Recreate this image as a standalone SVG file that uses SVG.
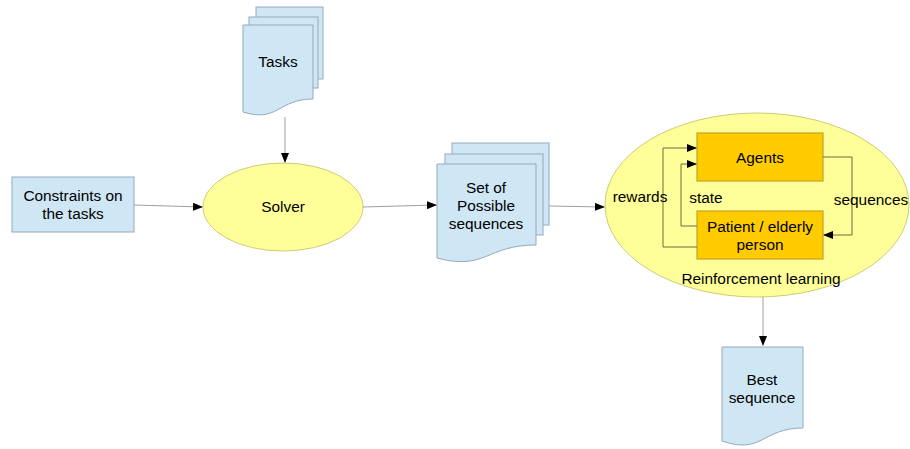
<svg xmlns="http://www.w3.org/2000/svg" width="910" height="449" viewBox="0 0 910 449">
<defs>
<marker id="ah" markerWidth="10" markerHeight="8" refX="9" refY="4" orient="auto" markerUnits="userSpaceOnUse">
<path d="M0,0 L10,4 L0,8 Z" fill="#000"/>
</marker>
<style>
.doc{fill:#cfe7f5;stroke:#94a9bd;stroke-width:1}
.ell{fill:#ffff99;stroke:#cccc77;stroke-width:1}
.box{fill:#ffcc00;stroke:#b8941f;stroke-width:1}
.t{font-family:"Liberation Sans",Arial,sans-serif;font-size:15.4px;fill:#000;text-anchor:middle}
.c{fill:none;stroke:#a0a0a0;stroke-width:1}
.c2{fill:none;stroke:#6b6b40;stroke-width:1}
</style>
</defs>
<rect width="910" height="449" fill="#fff"/>

<g id="tasks">
<rect class="doc" x="256" y="7" width="67" height="72"/>
<rect class="doc" x="249" y="17" width="69" height="71"/>
<path class="doc" d="M243,25 H313 V99 C278,99 278,123 243,112 Z"/>
<text class="t" x="278" y="67">Tasks</text>
</g>

<g id="constraints">
<rect class="doc" x="12" y="177" width="122" height="55"/>
<text class="t" x="73" y="201">Constraints on</text>
<text class="t" x="73" y="219">the tasks</text>
</g>

<g id="solver">
<ellipse class="ell" cx="283" cy="207" rx="80" ry="44"/>
<text class="t" x="283" y="212">Solver</text>
</g>

<g id="sequences">
<rect class="doc" x="452" y="143" width="97" height="82"/>
<rect class="doc" x="445" y="154" width="98" height="81"/>
<path class="doc" d="M437,164 H536 V245 C486,245 486,271 437,258 Z"/>
<text class="t" x="486" y="193">Set of</text>
<text class="t" x="486" y="211">Possible</text>
<text class="t" x="486" y="229">sequences</text>
</g>

<g id="rl">
<ellipse class="ell" cx="757" cy="205" rx="152" ry="92"/>
<text class="t" x="761" y="284">Reinforcement learning</text>
</g>

<g id="agents">
<rect class="box" x="697" y="133" width="126" height="48"/>
<text class="t" x="760" y="163">Agents</text>
</g>

<g id="patient">
<rect class="box" x="697" y="211" width="126" height="48"/>
<text class="t" x="760" y="232">Patient / elderly</text>
<text class="t" x="760" y="250">person</text>
</g>

<g id="best">
<path class="doc" d="M722,347 H803 V428 C762,428 762,455 722,441 Z"/>
<text class="t" x="762" y="385">Best</text>
<text class="t" x="762" y="403">sequence</text>
</g>

<g id="connectors">
<path class="c" d="M285,117 V162" marker-end="url(#ah)"/>
<path class="c" d="M134,205 L202,207" marker-end="url(#ah)"/>
<path class="c" d="M363,207 L436,205" marker-end="url(#ah)"/>
<path class="c" d="M549,206 L604,207" marker-end="url(#ah)"/>
<path class="c" d="M763,297 V345" marker-end="url(#ah)"/>
<path class="c2" d="M697,247 H663 V148 H696" marker-end="url(#ah)"/>
<path class="c2" d="M697,226 H681 V164 H696" marker-end="url(#ah)"/>
<path class="c2" d="M823,157 H852 V235 H824" marker-end="url(#ah)"/>
<text class="t" x="640" y="202">rewards</text>
<text class="t" x="706" y="203">state</text>
<text class="t" x="871" y="205">sequences</text>
</g>
</svg>
